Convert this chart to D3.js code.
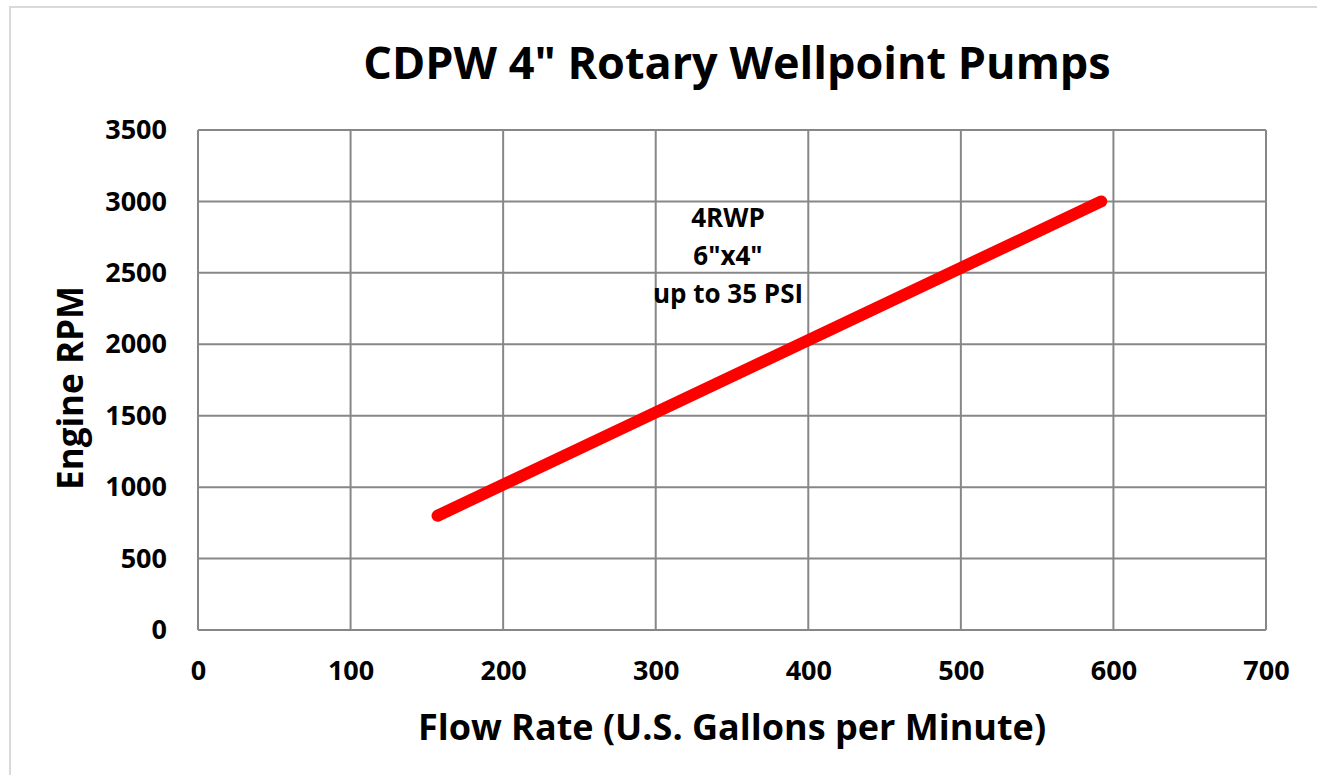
<!DOCTYPE html>
<html><head><meta charset="utf-8">
<script src="https://cdn.jsdelivr.net/npm/d3@7"></script>
<style>body{margin:0;background:#fff}svg{display:block}text{font-family:"Open Sans",sans-serif;font-weight:bold;fill:#000}</style>
</head><body>
<svg id="c" width="1317" height="775"></svg>
<script>
const flowRate = [157, 592];
const engineRPM = [800, 3000];
const xTicks = [0,100,200,300,400,500,600,700];
const yTicks = [0,500,1000,1500,2000,2500,3000,3500];
const title = 'CDPW 4" Rotary Wellpoint Pumps';
const xTitle = 'Flow Rate (U.S. Gallons per Minute)';
const yTitle = 'Engine RPM';
const note = ['4RWP','6"x4"','up to 35 PSI'];

const svg = d3.select('#c');
svg.append('rect').attr('x',10).attr('y',7).attr('width',1330).attr('height',800)
  .attr('fill','none').attr('stroke','#d9d9d9').attr('stroke-width',2);

const L=198,R=1266,T=130,B=630;
const x = d3.scaleLinear().domain([0,700]).range([L,R]);
const y = d3.scaleLinear().domain([0,3500]).range([B,T]);

const grid = svg.append('g');
grid.selectAll('.v').data(xTicks).join('line').attr('x1',d=>x(d)).attr('x2',d=>x(d)).attr('y1',T).attr('y2',B)
  .attr('stroke','#878787').attr('stroke-width',2);
grid.selectAll('.h').data(yTicks).join('line').attr('y1',d=>y(d)).attr('y2',d=>y(d)).attr('x1',L).attr('x2',R)
  .attr('stroke','#878787').attr('stroke-width',2);

const tickStyle = s => s.selectAll('text').style('font-size','27px').style('font-family','"Open Sans",sans-serif').style('font-weight','bold').attr('fill','#000');
const xAxis = svg.append('g').attr('transform',`translate(0,${B})`)
  .call(d3.axisBottom(x).tickValues(xTicks).tickSize(0).tickPadding(31).tickFormat(d3.format('d')));
xAxis.select('.domain').remove();
tickStyle(xAxis);

const yAxis = svg.append('g').attr('transform',`translate(${L},0)`)
  .call(d3.axisLeft(y).tickValues(yTicks).tickSize(0).tickPadding(31).tickFormat(d3.format('d')));
yAxis.select('.domain').remove();
tickStyle(yAxis);

const pts = flowRate.map((f,i)=>[f,engineRPM[i]]);
svg.append('path').attr('d',d3.line().x(d=>x(d[0])).y(d=>y(d[1]))(pts))
  .attr('fill','none').attr('stroke','#ff0000').attr('stroke-width',12).attr('stroke-linecap','round');

svg.append('text').attr('x',737).attr('y',79).attr('text-anchor','middle').style('font-size','45px').text(title);
svg.append('text').attr('x',732).attr('y',740).attr('text-anchor','middle').style('font-size','36px').text(xTitle);
svg.append('text').attr('transform','translate(83,388) rotate(-90)').attr('text-anchor','middle').style('font-size','35px').text(yTitle);

const nt = svg.append('text').attr('text-anchor','middle').style('font-size','26px');
note.forEach((s,i)=>nt.append('tspan').attr('x',728).attr('y',227+i*38).text(s));
</script>
</body></html>
